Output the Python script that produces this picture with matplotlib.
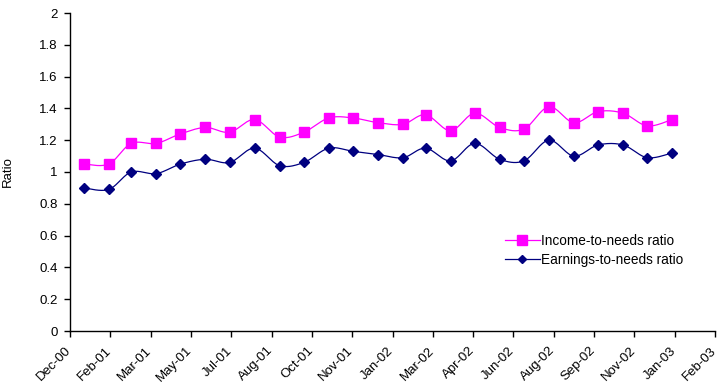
import datetime as dt
import numpy as np
import matplotlib
matplotlib.use("Agg")
import matplotlib.pyplot as plt
import matplotlib.dates as mdates
import matplotlib.transforms as mtrans
from matplotlib.ticker import FuncFormatter, MultipleLocator

plt.rcParams['font.family'] = ['Liberation Sans', 'DejaVu Sans']

# monthly observations, Jan-01 .. Jan-03
months = [dt.datetime(2001 + (m // 12), m % 12 + 1, 1) for m in range(25)]
income = [1.05, 1.05, 1.18, 1.18, 1.24, 1.28, 1.25, 1.33, 1.22, 1.25,
          1.34, 1.34, 1.31, 1.30, 1.36, 1.26, 1.37, 1.28, 1.27, 1.41,
          1.31, 1.38, 1.37, 1.29, 1.33]
earnings = [0.90, 0.89, 1.00, 0.99, 1.05, 1.08, 1.06, 1.15, 1.04, 1.06,
            1.15, 1.13, 1.11, 1.09, 1.15, 1.07, 1.18, 1.08, 1.07, 1.20,
            1.10, 1.17, 1.17, 1.09, 1.12]

axis_start = dt.datetime(2000, 12, 15)
tick_days = 50
n_ticks = 17


def smooth(x, y, steps=20):
    # Excel-style smoothed line: cubic Bezier through each point
    x = np.asarray(x, float)
    y = np.asarray(y, float)
    px = np.concatenate([[x[0]], x, [x[-1]]])
    py = np.concatenate([[y[0]], y, [y[-1]]])
    t = np.linspace(0, 1, steps)
    xs, ys = [], []
    for i in range(1, len(px) - 2):
        p0 = np.array([px[i], py[i]])
        p3 = np.array([px[i + 1], py[i + 1]])
        c1 = p0 + (np.array([px[i + 1], py[i + 1]]) - np.array([px[i - 1], py[i - 1]])) / 6
        c2 = p3 - (np.array([px[i + 2], py[i + 2]]) - np.array([px[i], py[i]])) / 6
        b = ((1 - t) ** 3)[:, None] * p0 + (3 * (1 - t) ** 2 * t)[:, None] * c1 \
            + (3 * (1 - t) * t ** 2)[:, None] * c2 + (t ** 3)[:, None] * p3
        xs.extend(b[:, 0])
        ys.extend(b[:, 1])
    return np.array(xs), np.array(ys)


fig = plt.figure(figsize=(7.18, 3.92), dpi=100)
ax = fig.add_axes([70 / 718, 61 / 392, 645 / 718, 318 / 392])

xnum = mdates.date2num(months)
pink = '#FF00FF'
navy = '#000080'

sx, sy = smooth(xnum, income)
ax.plot(sx, sy, color=pink, lw=0.9)
ax.plot(xnum, income, ls='none', marker='s', ms=7, color=pink)
ax.plot([], [], color=pink, lw=0.9, marker='s', ms=7, label='Income-to-needs ratio')

sx, sy = smooth(xnum, earnings)
ax.plot(sx, sy, color=navy, lw=0.9)
ax.plot(xnum, earnings, ls='none', marker='D', ms=5.5, color=navy)
ax.plot([], [], color=navy, lw=0.9, marker='D', ms=4.5, label='Earnings-to-needs ratio')

start = mdates.date2num(axis_start)
ticks = [start + tick_days * k for k in range(n_ticks)]
ax.set_xlim(start, ticks[-1])
ax.set_xticks(ticks)
ax.xaxis.set_major_formatter(mdates.DateFormatter('%b-%y'))
ax.set_ylim(0, 2)
ax.yaxis.set_major_locator(MultipleLocator(0.2))
ax.yaxis.set_major_formatter(FuncFormatter(lambda v, p: '%g' % round(v, 1)))

for s in ['top', 'right']:
    ax.spines[s].set_visible(False)
for s in ['left', 'bottom']:
    ax.spines[s].set_linewidth(1.0)
ax.tick_params(direction='out', length=4, width=1, labelsize=9.5, pad=5)
shift = mtrans.ScaledTranslation(-5 / 100, -1 / 100, fig.dpi_scale_trans)
for lab in ax.get_xticklabels():
    lab.set_rotation(45)
    lab.set_ha('right')
    lab.set_rotation_mode('anchor')
    lab.set_transform(lab.get_transform() + shift)

ax.set_ylabel('Ratio', fontsize=9.5, labelpad=18)

ax.legend(loc='upper left', bbox_to_anchor=(0.655, 0.345), frameon=False,
          fontsize=9.8, handlelength=2.6, handletextpad=0.1, labelspacing=0.4)

fig.savefig('out.png', dpi=100)
